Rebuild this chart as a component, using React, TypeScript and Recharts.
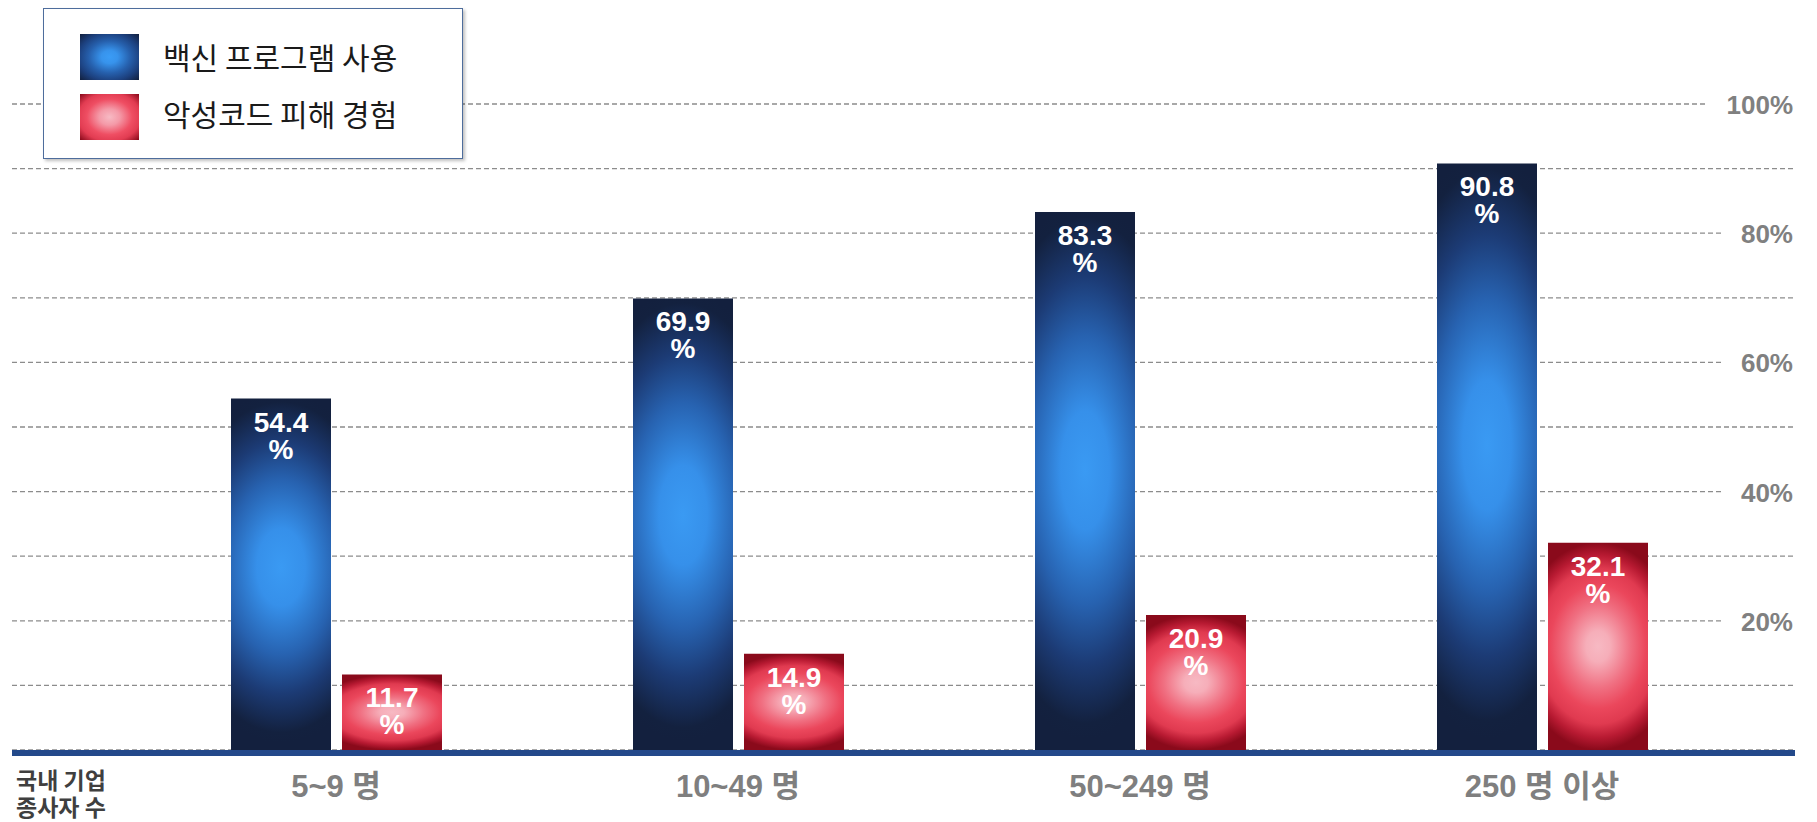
import React from 'react';
import { BarChart, Bar, XAxis, YAxis, CartesianGrid, Legend, LabelList } from 'recharts';

const categories = ['5~9 명', '10~49 명', '50~249 명', '250 명 이상'];
const vaccineUse = [54.4, 69.9, 83.3, 90.8];
const malwareDamage = [11.7, 14.9, 20.9, 32.1];
const yTicks = [0, 10, 20, 30, 40, 50, 60, 70, 80, 90, 100];
const yLabelTicks = [20, 40, 60, 80, 100];
const seriesNames = ['백신 프로그램 사용', '악성코드 피해 경험'];
const axisTitle = ['국내 기업', '종사자 수'];

const data = categories.map((cat, i) => ({
    cat,
    vaccine: vaccineUse[i],
    malware: malwareDamage[i],
}));

const W = 1817;
const H = 822;
const margin = { top: 104, right: 21, bottom: 42, left: 12 };
const numFont = "'Liberation Sans', Arial, 'Noto Sans CJK KR', sans-serif";

// white value label inside the top of each bar, value on one line and % below
const BarValueLabel = (props: any) => {
    const { x, y, width, value } = props;
    const cx = Number(x) + Number(width) / 2;
    return (
        <text textAnchor="middle" fill="#ffffff" fontSize={28} fontWeight="bold" fontFamily={numFont}>
            <tspan x={cx} y={Number(y) + 33}>{value}</tspan>
            <tspan x={cx} y={Number(y) + 60}>%</tspan>
        </text>
    );
};

// right-side percent labels, white box hides the grid line behind them
const PercentTick = (props: any) => {
    const { y, payload } = props;
    if (!yLabelTicks.includes(payload.value)) return <g />;
    const label = `${payload.value}%`;
    const right = W - margin.right - 3;
    const textW = (label.length - 1) * 14.5 + 23;
    return (
        <g>
            <rect x={right - textW - 20} y={y - 5} width={textW + 26} height={10} fill="#ffffff" />
            <text x={right} y={y + 10} textAnchor="end" fill="#808080" fontSize={26} fontWeight="bold" fontFamily={numFont}>
                {label}
            </text>
        </g>
    );
};

const CategoryTick = (props: any) => {
    const { x, y, payload } = props;
    return (
        <text x={x} y={y} dy={39} textAnchor="middle" fill="#7f7f7f" fontSize={31} fontWeight="bold" fontFamily={numFont}>
            {payload.value}
        </text>
    );
};

const AxisTitle = () => (
    <text fill="#3f3f3f" fontSize={23} fontWeight="bold" fontFamily="'Noto Sans CJK KR', sans-serif">
        <tspan x={16} y={789}>{axisTitle[0]}</tspan>
        <tspan x={16} y={816}>{axisTitle[1]}</tspan>
    </text>
);

const Swatch = ({ kind }: { kind: 'blue' | 'red' }) => {
    const id = `sw-${kind}`;
    const stops = kind === 'blue'
        ? [['0', '#3a9cf6'], ['0.2', '#3793ec'], ['0.5', '#2660ad'], ['0.75', '#1c407e'], ['1', '#12203e']]
        : [['0', '#f7bac4'], ['0.25', '#f49aa8'], ['0.55', '#ef4e63'], ['0.75', '#e23c52'], ['1', '#8a0a1b']];
    return (
        <svg width={59} height={46} style={{ display: 'block' }}>
            <defs>
                <radialGradient id={id} cx="0.5" cy="0.5" r="0.7">
                    {stops.map(([o, c]) => <stop key={o} offset={o} stopColor={c} />)}
                </radialGradient>
            </defs>
            <rect width={59} height={46} fill={`url(#${id})`} />
        </svg>
    );
};

const LegendBox = () => (
    <div style={{
        position: 'relative', width: 418, height: 149, background: '#ffffff',
        border: '1.5px solid #4e6d9c', boxShadow: '2px 2px 3px rgba(0,0,0,0.25)',
        fontFamily: "'Noto Sans CJK KR', sans-serif", color: '#1a1a1a',
    }}>
        {seriesNames.map((name, i) => (
            <div key={name}>
                <div style={{ position: 'absolute', left: 36, top: 25 + i * 60 }}>
                    <Swatch kind={i === 0 ? 'blue' : 'red'} />
                </div>
                <div style={{ position: 'absolute', left: 119, top: 27 + i * 57, fontSize: 30, lineHeight: '40px', whiteSpace: 'nowrap' }}>
                    {name}
                </div>
            </div>
        ))}
    </div>
);

export default function App() {
    return (
        <div style={{ position: 'relative', width: W, height: H, background: '#ffffff' }}>
            <style>{`body{margin:0;}`}</style>
            <BarChart width={W} height={H} data={data} margin={margin} barSize={100} barGap={11}>
                <defs>
                    <radialGradient id="blueBar" cx="0.5" cy="0.48" r="0.5"
                        gradientTransform="translate(0.5 0.48) scale(2.2 1) translate(-0.5 -0.48)">
                        <stop offset="0" stopColor="#3a9af3" />
                        <stop offset="0.22" stopColor="#3690ea" />
                        <stop offset="0.5" stopColor="#2762b0" />
                        <stop offset="0.72" stopColor="#1c3b75" />
                        <stop offset="0.94" stopColor="#13213f" />
                        <stop offset="1" stopColor="#13203e" />
                    </radialGradient>
                    <radialGradient id="redBar" cx="0.5" cy="0.5" r="0.5"
                        gradientTransform="translate(0.5 0.5) scale(1.6 1) translate(-0.5 -0.5)">
                        <stop offset="0" stopColor="#f7b9c3" />
                        <stop offset="0.15" stopColor="#f6aeb9" />
                        <stop offset="0.4" stopColor="#f07082" />
                        <stop offset="0.6" stopColor="#eb475c" />
                        <stop offset="0.75" stopColor="#e03a50" />
                        <stop offset="0.88" stopColor="#b81a32" />
                        <stop offset="1" stopColor="#8a0a1b" />
                    </radialGradient>
                </defs>
                <CartesianGrid vertical={false} stroke="#8c8c8c" strokeWidth={1.3} strokeDasharray="5 3" />
                <XAxis
                    dataKey="cat"
                    padding={{ left: 123, right: 52 }}
                    tickLine={false}
                    axisLine={{ stroke: '#23498a', strokeWidth: 6, transform: 'translate(0,3)' }}
                    tick={<CategoryTick />}
                    height={30}
                    label={{ content: () => <AxisTitle /> }}
                />
                <YAxis
                    orientation="right"
                    width={1}
                    domain={[0, 100]}
                    ticks={yTicks}
                    tickLine={false}
                    axisLine={false}
                    tick={<PercentTick />}
                    interval={0}
                />
                <Legend
                    layout="vertical"
                    align="center"
                    verticalAlign="middle"
                    content={() => <LegendBox />}
                    wrapperStyle={{ left: 43, top: 8, width: 421, height: 152 }}
                />
                <Bar dataKey="vaccine" name={seriesNames[0]} fill="url(#blueBar)" isAnimationActive={false}>
                    <LabelList dataKey="vaccine" content={<BarValueLabel />} />
                </Bar>
                <Bar dataKey="malware" name={seriesNames[1]} fill="url(#redBar)" isAnimationActive={false}>
                    <LabelList dataKey="malware" content={<BarValueLabel />} />
                </Bar>
            </BarChart>
        </div>
    );
}
